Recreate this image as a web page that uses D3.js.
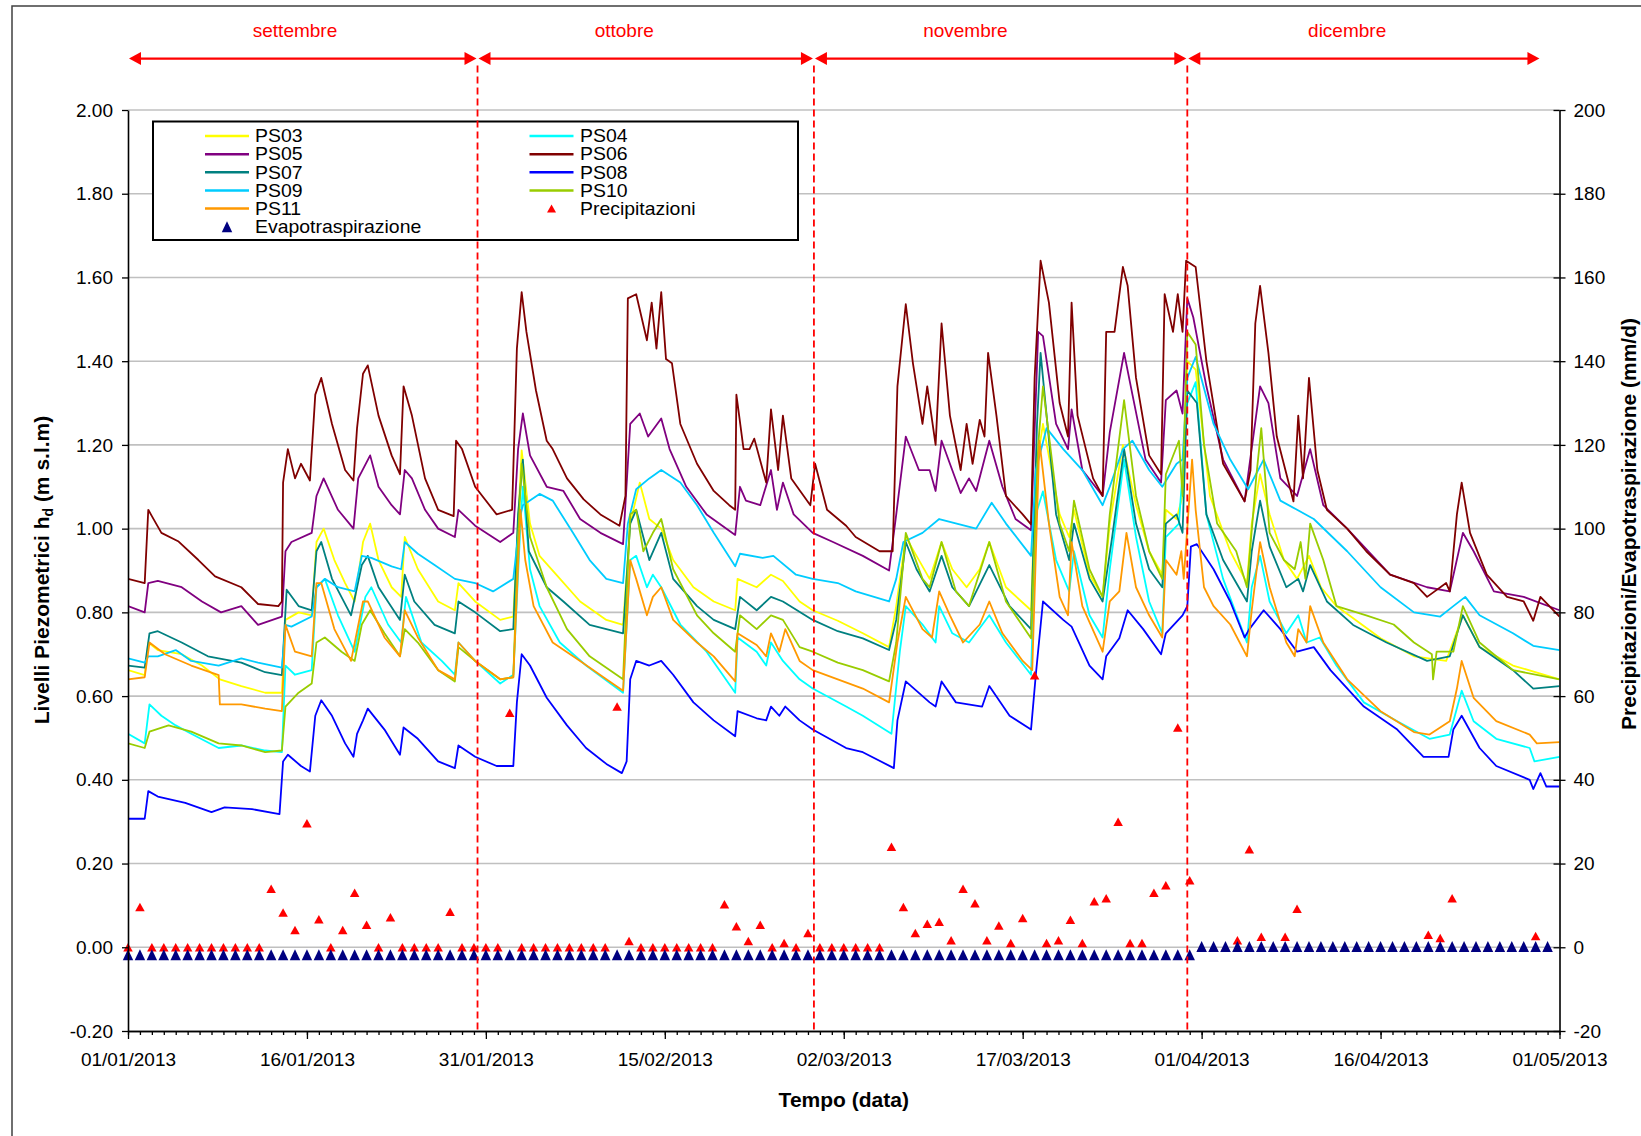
<!DOCTYPE html>
<html>
<head>
<meta charset="utf-8">
<script src="https://cdn.jsdelivr.net/npm/d3@7"></script>
<style>
  body { margin: 0; background: #fff; }
  text { font-family: "Liberation Sans", Arial, sans-serif; }
</style>
</head>
<body>
<script>
// Livelli piezometrici: [giorni dal 01/01/2013, livello in m s.l.m]
var ps03 = [[0,0.662],[1.4,0.65],[1.7,0.728],[2.5,0.71],[4.5,0.70],[6.2,0.673],[7.7,0.64],[9.5,0.624],[11.5,0.608],[12.9,0.608],[13.2,0.782],[14.3,0.80],[15.4,0.793],[15.8,0.968],[16.4,1.00],[17.3,0.925],[18.2,0.87],[19.0,0.826],[19.7,0.968],[20.3,1.012],[21.0,0.925],[22.1,0.86],[22.9,0.837],[23.2,0.98],[24.3,0.903],[26.0,0.826],[27.4,0.805],[27.7,0.87],[29.1,0.826],[31.2,0.782],[32.3,0.79],[32.7,1.012],[33.0,1.187],[33.7,1.012],[34.5,0.935],[35.9,0.89],[37.9,0.826],[40.1,0.782],[41.5,0.77],[42.1,1.012],[42.9,1.11],[43.7,1.023],[44.7,1.00],[45.7,0.925],[47.4,0.86],[49.1,0.826],[50.9,0.805],[51.1,0.88],[52.7,0.86],[53.9,0.89],[54.9,0.875],[56.3,0.826],[57.4,0.805],[59.5,0.78],[61.6,0.75],[63.8,0.717],[64.4,0.815],[65.2,0.98],[66.1,0.935],[67.2,0.88],[68.2,0.968],[69.1,0.903],[70.3,0.86],[71.4,0.903],[72.2,0.968],[73.6,0.86],[75.7,0.805],[76.1,1.14],[76.7,1.25],[78.1,1.034],[78.9,0.98],[79.3,1.045],[80.6,0.89],[81.7,0.837],[82.3,1.012],[83.4,1.20],[84.5,1.056],[85.6,0.946],[86.7,0.89],[87.0,1.045],[87.9,1.023],[88.4,1.078],[88.8,1.40],[89.5,1.38],[90.7,1.078],[92.4,0.946],[93.8,0.87],[94.2,1.012],[94.9,1.13],[95.7,1.034],[96.9,0.925],[98.0,0.88],[99.0,0.935],[100.0,0.86],[101.3,0.815],[105.0,0.738],[107.8,0.695],[110.5,0.684],[111.9,0.793],[113.3,0.717],[116.1,0.673],[120,0.64]];

var ps04 = [[0,0.51],[1.4,0.487],[1.8,0.58],[2.8,0.553],[4.0,0.53],[5.3,0.51],[7.6,0.476],[9.5,0.482],[11.5,0.47],[12.9,0.466],[13.2,0.673],[14.0,0.651],[15.4,0.662],[15.8,0.86],[16.5,0.88],[17.6,0.793],[19.0,0.706],[19.9,0.837],[20.4,0.86],[21.8,0.771],[22.9,0.728],[23.3,0.837],[24.6,0.728],[26.3,0.684],[27.4,0.651],[27.7,0.728],[29.1,0.684],[31.2,0.63],[32.3,0.651],[32.9,1.012],[33.1,1.10],[33.7,0.903],[34.5,0.815],[36.2,0.728],[38.4,0.673],[41.5,0.608],[42.1,0.925],[42.6,0.935],[43.5,0.86],[44.0,0.89],[44.7,0.86],[46.3,0.771],[48.5,0.706],[50.9,0.608],[51.1,0.74],[52.7,0.706],[53.5,0.673],[53.9,0.728],[54.9,0.684],[56.3,0.64],[57.4,0.618],[60.2,0.575],[61.6,0.553],[64.0,0.51],[64.7,0.706],[65.2,0.815],[66.6,0.771],[67.7,0.728],[68.0,0.815],[69.1,0.75],[70.5,0.728],[72.2,0.793],[73.6,0.728],[75.7,0.651],[76.1,1.034],[76.7,1.089],[77.8,0.925],[78.9,0.85],[79.3,0.946],[80.6,0.793],[81.7,0.74],[82.3,0.903],[83.5,1.165],[84.5,0.98],[85.6,0.826],[86.7,0.75],[87.0,0.98],[88.1,1.012],[88.8,1.30],[89.5,1.35],[90.4,1.034],[91.8,0.88],[93.8,0.728],[94.2,0.86],[94.9,0.935],[95.7,0.826],[97.1,0.75],[98.1,0.793],[98.8,0.728],[99.9,0.74],[101.3,0.673],[103.6,0.585],[106.4,0.54],[109.1,0.498],[110.8,0.508],[111.8,0.613],[112.8,0.54],[114.7,0.498],[117.5,0.476],[117.9,0.444],[120,0.455]];

var ps05 = [[0,0.815],[1.4,0.80],[1.7,0.87],[2.5,0.875],[4.5,0.86],[6.2,0.826],[7.8,0.80],[9.5,0.815],[10.9,0.77],[12.9,0.79],[13.2,0.946],[13.7,0.968],[15.4,0.99],[15.8,1.078],[16.4,1.12],[17.6,1.045],[18.9,1.00],[19.3,1.12],[20.3,1.175],[21.0,1.10],[22.1,1.056],[22.8,1.034],[23.2,1.14],[23.8,1.12],[24.9,1.045],[26.0,1.00],[27.4,0.98],[27.7,1.045],[29.1,1.007],[31.2,0.968],[32.3,0.99],[32.7,1.19],[33.1,1.275],[33.7,1.175],[35.1,1.10],[36.5,1.09],[37.9,1.023],[39.6,0.99],[41.5,0.963],[42.1,1.25],[42.9,1.275],[43.6,1.22],[44.7,1.263],[45.4,1.19],[46.8,1.10],[48.5,1.034],[50.9,0.985],[51.3,1.10],[51.8,1.067],[53.0,1.056],[53.9,1.14],[54.4,1.045],[54.9,1.11],[55.8,1.034],[57.4,0.99],[59.1,0.968],[61.6,0.935],[63.8,0.90],[64.4,1.034],[65.2,1.22],[66.3,1.14],[67.2,1.14],[67.7,1.09],[68.2,1.21],[68.9,1.155],[69.8,1.085],[70.5,1.12],[71.1,1.09],[72.2,1.21],[73.3,1.10],[74.4,1.023],[75.7,0.996],[76.3,1.47],[76.7,1.46],[77.8,1.25],[78.8,1.19],[79.1,1.285],[80.0,1.14],[81.7,1.078],[82.3,1.23],[83.5,1.42],[84.2,1.32],[85.3,1.165],[86.6,1.11],[87.0,1.307],[87.9,1.33],[88.4,1.275],[88.8,1.55],[89.3,1.505],[90.4,1.34],[91.8,1.165],[93.6,1.065],[94.9,1.34],[95.6,1.30],[96.6,1.12],[98.0,1.078],[99.1,1.19],[100.2,1.056],[102.2,1.00],[105.8,0.89],[108.9,0.86],[110.8,0.85],[111.9,0.99],[112.8,0.946],[114.5,0.85],[117.0,0.837],[120,0.805]];

var ps06 = [[0,0.88],[1.4,0.87],[1.7,1.045],[2,1.03],[2.8,0.99],[4.2,0.97],[5.9,0.925],[7.3,0.886],[9.5,0.86],[10.9,0.82],[12.6,0.815],[12.9,0.826],[13.0,1.11],[13.4,1.19],[14.0,1.12],[14.5,1.155],[15.25,1.115],[15.7,1.32],[16.2,1.36],[17.1,1.25],[18.2,1.14],[18.9,1.115],[19.2,1.24],[19.7,1.37],[20.1,1.39],[21.0,1.27],[22.1,1.175],[22.8,1.13],[23.1,1.34],[23.8,1.27],[24.9,1.12],[26.0,1.045],[27.3,1.03],[27.5,1.21],[28.0,1.19],[29.1,1.10],[30.9,1.034],[32.2,1.045],[32.6,1.43],[33.0,1.565],[33.4,1.47],[34.2,1.33],[35.1,1.21],[35.6,1.19],[36.8,1.12],[38.2,1.07],[39.6,1.034],[41.2,1.007],[41.7,1.078],[41.9,1.55],[42.6,1.56],[43.5,1.45],[43.9,1.54],[44.3,1.43],[44.7,1.565],[45.1,1.405],[45.6,1.395],[46.3,1.25],[47.7,1.155],[49.1,1.09],[50.4,1.056],[50.9,1.045],[51.0,1.32],[51.6,1.19],[52.1,1.19],[52.5,1.215],[53.5,1.11],[53.9,1.285],[54.5,1.14],[54.9,1.27],[55.6,1.12],[57.2,1.056],[57.6,1.155],[58.6,1.045],[60.2,1.007],[61.0,0.98],[63.0,0.946],[64.1,0.946],[64.5,1.34],[65.2,1.536],[65.8,1.395],[66.6,1.25],[67.0,1.34],[67.7,1.20],[68.2,1.49],[68.9,1.27],[69.8,1.14],[70.3,1.25],[70.8,1.155],[71.4,1.26],[71.8,1.22],[72.1,1.42],[72.8,1.27],[73.6,1.078],[75.0,1.034],[75.7,1.01],[76.0,1.36],[76.5,1.64],[77.2,1.54],[78.1,1.30],[78.8,1.22],[79.1,1.54],[79.6,1.27],[80.9,1.12],[81.7,1.078],[82.0,1.47],[82.7,1.47],[83.4,1.625],[83.8,1.58],[84.5,1.36],[85.6,1.175],[86.6,1.13],[86.9,1.56],[87.6,1.47],[88.0,1.56],[88.4,1.47],[88.7,1.64],[89.5,1.625],[90.4,1.40],[91.8,1.155],[93.6,1.065],[94.1,1.14],[94.5,1.49],[94.9,1.58],[95.6,1.42],[96.3,1.22],[97.7,1.065],[98.1,1.27],[98.5,1.12],[99.0,1.36],[99.7,1.14],[100.5,1.045],[102.2,1.00],[103.8,0.946],[105.8,0.89],[107.8,0.87],[108.9,0.837],[110.5,0.87],[110.8,0.85],[111.4,1.034],[111.8,1.11],[112.5,0.99],[113.9,0.89],[115.6,0.837],[117.0,0.826],[117.8,0.78],[118.4,0.837],[120,0.79]];

var ps07 = [[0,0.673],[1.4,0.668],[1.8,0.75],[2.5,0.755],[4.5,0.728],[6.7,0.695],[9.5,0.68],[11.5,0.657],[12.9,0.65],[13.3,0.854],[14.3,0.815],[15.4,0.805],[15.8,0.946],[16.2,0.968],[17.1,0.88],[18.7,0.793],[19.6,0.913],[20.1,0.935],[21.0,0.86],[22.8,0.782],[23.2,0.89],[24.0,0.826],[25.7,0.77],[27.4,0.75],[27.7,0.826],[29.1,0.80],[31.2,0.755],[32.3,0.76],[32.7,1.034],[33.1,1.165],[33.6,0.946],[35.1,0.86],[36.5,0.826],[38.7,0.77],[41.5,0.75],[42.1,1.012],[42.6,1.045],[43.7,0.925],[44.7,0.99],[45.7,0.88],[47.7,0.815],[49.1,0.782],[50.9,0.76],[51.3,0.837],[52.7,0.805],[53.9,0.837],[54.9,0.826],[57.4,0.782],[59.5,0.755],[61.6,0.738],[63.8,0.71],[64.4,0.782],[65.2,0.968],[66.1,0.903],[67.2,0.85],[68.2,0.935],[69.1,0.86],[70.5,0.815],[72.2,0.913],[73.9,0.815],[75.7,0.76],[76.2,1.25],[76.5,1.42],[77.8,1.034],[78.9,0.925],[79.3,1.012],[80.6,0.88],[81.7,0.826],[82.5,0.98],[83.5,1.19],[84.5,1.012],[85.6,0.903],[86.7,0.86],[87.0,1.012],[87.9,1.034],[88.4,0.99],[88.8,1.33],[89.6,1.30],[90.4,1.034],[91.8,0.925],[93.8,0.826],[94.2,0.946],[94.9,1.067],[95.7,0.957],[97.1,0.86],[98.1,0.88],[98.5,0.85],[99.1,0.913],[100.5,0.826],[102.7,0.77],[105.5,0.728],[108.9,0.684],[110.8,0.695],[111.9,0.793],[113.3,0.717],[116.1,0.662],[117.8,0.618],[120,0.624]];

var ps08 = [[0,0.307],[1.4,0.307],[1.7,0.373],[2.5,0.36],[4.8,0.345],[7.0,0.323],[8.1,0.334],[10.4,0.33],[12.7,0.318],[13.0,0.444],[13.4,0.46],[14.5,0.433],[15.25,0.42],[15.7,0.553],[16.2,0.59],[17.1,0.553],[18.2,0.487],[18.9,0.455],[19.2,0.51],[19.7,0.542],[20.1,0.57],[21.5,0.52],[22.8,0.46],[23.1,0.525],[24.3,0.498],[26.0,0.444],[27.4,0.428],[27.7,0.482],[29.1,0.455],[30.9,0.433],[32.3,0.433],[32.6,0.585],[33.0,0.70],[33.7,0.673],[35.1,0.596],[36.8,0.53],[38.4,0.476],[40.1,0.438],[41.4,0.416],[41.8,0.444],[42.1,0.64],[42.6,0.684],[43.7,0.673],[44.7,0.684],[45.7,0.651],[47.4,0.585],[49.1,0.542],[50.9,0.504],[51.1,0.564],[52.7,0.547],[53.5,0.542],[53.9,0.575],[54.6,0.553],[55.1,0.575],[56.3,0.542],[57.4,0.52],[60.2,0.476],[61.6,0.466],[64.2,0.428],[64.5,0.542],[65.2,0.635],[67.2,0.585],[67.7,0.575],[68.2,0.635],[69.4,0.585],[71.6,0.575],[72.2,0.624],[73.9,0.553],[75.7,0.52],[76.1,0.651],[76.7,0.826],[78.4,0.782],[79.1,0.766],[80.6,0.673],[81.7,0.64],[82.0,0.695],[83.1,0.738],[83.8,0.805],[85.1,0.76],[86.6,0.70],[87.0,0.75],[88.4,0.793],[88.8,0.815],[89.1,0.957],[89.6,0.963],[91.0,0.903],[92.4,0.826],[93.6,0.74],[94.0,0.76],[95.2,0.805],[96.6,0.76],[98.0,0.706],[99.4,0.717],[100.8,0.662],[103.6,0.575],[106.4,0.52],[108.6,0.455],[110.7,0.455],[111.1,0.52],[111.8,0.553],[113.3,0.476],[114.7,0.433],[117.5,0.40],[117.8,0.378],[118.4,0.416],[118.9,0.384],[120,0.384]];

var ps09 = [[0,0.69],[1.4,0.68],[1.7,0.695],[2.5,0.695],[4,0.71],[5.3,0.684],[7.6,0.673],[9.5,0.69],[10.9,0.68],[12.9,0.668],[13.2,0.77],[13.7,0.766],[15.4,0.79],[15.8,0.86],[16.5,0.88],[17.6,0.86],[19.0,0.85],[19.6,0.935],[20.4,0.93],[22.1,0.91],[22.9,0.903],[23.2,0.968],[24.3,0.94],[25.7,0.913],[27.4,0.88],[29.1,0.87],[30.6,0.85],[32.3,0.88],[32.9,1.034],[33.1,1.056],[34.5,1.083],[35.6,1.067],[37.3,0.99],[38.7,0.925],[40.1,0.88],[41.5,0.87],[41.9,1.012],[42.6,1.094],[43.7,1.12],[44.7,1.14],[46.3,1.11],[47.7,1.056],[49.1,0.99],[50.9,0.91],[51.3,0.94],[53.2,0.93],[54.1,0.935],[56.0,0.89],[57.4,0.88],[59.5,0.87],[61.0,0.85],[63.8,0.826],[64.4,0.88],[65.0,0.968],[66.6,0.99],[68.0,1.023],[71.1,1.00],[72.4,1.062],[73.6,1.012],[75.7,0.935],[76.1,1.14],[77.0,1.24],[78.4,1.19],[80.0,1.14],[81.7,1.056],[82.3,1.10],[83.4,1.19],[84.2,1.21],[85.6,1.14],[86.7,1.10],[87.9,1.155],[88.4,1.165],[88.8,1.36],[89.5,1.41],[91.0,1.25],[92.4,1.165],[93.9,1.094],[95.2,1.165],[96.6,1.067],[98.0,1.045],[99.4,1.023],[102.2,0.946],[105.0,0.86],[107.8,0.80],[110.0,0.79],[111.1,0.815],[112.1,0.837],[113.3,0.793],[116.1,0.75],[117.8,0.72],[120,0.71]];

var ps10 = [[0,0.487],[1.4,0.476],[1.8,0.515],[3.4,0.53],[5.3,0.515],[7.6,0.487],[9.5,0.482],[11.5,0.466],[12.9,0.47],[13.2,0.575],[14.3,0.608],[15.4,0.63],[15.8,0.728],[16.5,0.74],[17.9,0.706],[19.0,0.684],[19.6,0.771],[20.3,0.805],[21.5,0.75],[22.8,0.695],[23.2,0.76],[24.3,0.728],[26.0,0.662],[27.4,0.635],[27.7,0.717],[29.1,0.684],[31.2,0.64],[32.3,0.645],[32.7,0.98],[33.0,1.155],[33.7,0.98],[35.1,0.86],[36.8,0.76],[38.7,0.695],[41.5,0.64],[42.1,1.034],[42.6,1.045],[43.2,0.946],[44.0,0.99],[44.7,1.023],[45.7,0.903],[47.7,0.793],[49.1,0.75],[50.9,0.706],[51.3,0.793],[52.7,0.76],[53.9,0.793],[54.9,0.782],[56.3,0.717],[57.4,0.706],[59.5,0.68],[61.6,0.662],[63.8,0.635],[64.4,0.728],[65.2,0.99],[66.6,0.88],[67.2,0.86],[68.2,0.968],[69.4,0.85],[70.5,0.815],[72.2,0.968],[73.6,0.826],[75.7,0.738],[76.3,1.20],[76.7,1.34],[78.1,1.012],[78.9,0.946],[79.3,1.067],[80.6,0.903],[81.7,0.837],[82.3,1.034],[83.5,1.307],[84.5,1.078],[85.6,0.946],[86.7,0.88],[87.0,1.13],[88.1,1.21],[88.4,1.078],[88.8,1.47],[89.5,1.44],[90.2,1.20],[91.3,1.012],[92.9,0.946],[93.8,0.86],[94.6,1.13],[95.0,1.24],[95.7,0.99],[96.9,0.925],[97.8,0.903],[98.3,0.968],[98.7,0.88],[99.1,1.012],[100.2,0.925],[101.3,0.815],[103.8,0.793],[106.1,0.771],[107.8,0.728],[109.3,0.70],[109.4,0.64],[109.7,0.706],[111.1,0.706],[111.9,0.815],[113.3,0.728],[116.1,0.662],[120,0.64]];

var ps11 = [[0,0.64],[1.4,0.645],[1.8,0.728],[3.1,0.70],[5.3,0.673],[7.6,0.65],[7.7,0.58],[9.5,0.58],[11.5,0.57],[12.9,0.564],[13.2,0.77],[14.0,0.706],[15.4,0.695],[15.8,0.87],[16.2,0.87],[17.3,0.76],[18.7,0.684],[19.7,0.826],[20.1,0.826],[21.5,0.74],[22.8,0.695],[23.2,0.805],[24.3,0.74],[26.0,0.662],[27.4,0.64],[27.7,0.728],[29.1,0.684],[31.2,0.64],[32.3,0.645],[32.9,1.045],[33.3,0.925],[34.0,0.815],[35.6,0.728],[37.9,0.684],[40.1,0.64],[41.5,0.613],[42.1,0.925],[42.6,0.88],[43.5,0.793],[44.0,0.837],[44.7,0.86],[45.7,0.782],[47.7,0.728],[49.1,0.695],[50.9,0.635],[51.1,0.75],[52.7,0.722],[53.5,0.695],[53.9,0.75],[54.6,0.706],[55.1,0.76],[56.3,0.684],[57.4,0.662],[59.5,0.64],[61.6,0.618],[63.8,0.585],[64.5,0.728],[65.2,0.837],[66.6,0.76],[67.4,0.74],[68.0,0.85],[68.9,0.793],[70.0,0.728],[71.4,0.771],[72.2,0.826],[73.3,0.75],[75.0,0.684],[75.8,0.662],[76.4,1.21],[77.2,1.012],[78.1,0.837],[78.8,0.793],[79.1,0.968],[80.0,0.815],[81.7,0.706],[82.3,0.826],[83.1,0.85],[83.7,0.99],[84.5,0.86],[85.6,0.793],[86.7,0.74],[87.0,0.925],[87.9,0.89],[88.3,0.946],[88.5,0.88],[89.2,1.165],[89.5,1.045],[90.2,0.86],[91.0,0.815],[92.4,0.771],[93.8,0.695],[94.2,0.805],[94.9,0.968],[95.7,0.86],[97.1,0.728],[97.8,0.695],[98.1,0.76],[98.8,0.728],[99.1,0.815],[100.2,0.728],[102.2,0.64],[105.0,0.564],[107.8,0.514],[109.1,0.508],[110.8,0.54],[111.4,0.618],[111.8,0.684],[112.8,0.596],[114.7,0.54],[117.5,0.508],[118.1,0.487],[120,0.49]];

// mm/d, un valore al giorno dal 01/01/2013
var precipitazioni = [
  0, 9.6, 0, 0, 0, 0, 0, 0, 0, 0,
  0, 0, 14, 8.3, 4.1, 29.6, 6.7, 0, 4.1, 13,
  5.4, 0, 7.2, 0, 0, 0, 0, 8.5, 0, 0,
  0, 0, 56, 0, 0, 0, 0, 0, 0, 0,
  0, 57.5, 1.5, 0, 0, 0, 0, 0, 0, 0,
  10.3, 5, 1.5, 5.4, 0, 1, 0, 3.4, 0, 0,
  0, 0, 0, 0, 24, 9.6, 3.4, 5.6, 6.1, 1.7,
  14, 10.5, 1.7, 5.2, 1, 7, 65, 1, 1.7, 6.6,
  1, 11, 11.7, 30, 1, 1, 13, 14.8, 52.5, 16,
  0, 0, 0, 1.7, 23.4, 2.5, 0, 2.5, 9.2, 0,
  0, 0, 0, 0, 0, 0, 0, 0, 0, 3,
  2.2, 11.7, 0, 0, 0, 0, 0, 0, 2.7, 0
];
var evapotraspirazione = [
  -1.8, -1.8, -1.8, -1.8, -1.8, -1.8, -1.8, -1.8, -1.8, -1.8,
  -1.8, -1.8, -1.8, -1.8, -1.8, -1.8, -1.8, -1.8, -1.8, -1.8,
  -1.8, -1.8, -1.8, -1.8, -1.8, -1.8, -1.8, -1.8, -1.8, -1.8,
  -1.8, -1.8, -1.8, -1.8, -1.8, -1.8, -1.8, -1.8, -1.8, -1.8,
  -1.8, -1.8, -1.8, -1.8, -1.8, -1.8, -1.8, -1.8, -1.8, -1.8,
  -1.8, -1.8, -1.8, -1.8, -1.8, -1.8, -1.8, -1.8, -1.8, -1.8,
  -1.8, -1.8, -1.8, -1.8, -1.8, -1.8, -1.8, -1.8, -1.8, -1.8,
  -1.8, -1.8, -1.8, -1.8, -1.8, -1.8, -1.8, -1.8, -1.8, -1.8,
  -1.8, -1.8, -1.8, -1.8, -1.8, -1.8, -1.8, -1.8, -1.8, -1.8,
  0.2, 0.2, 0.2, 0.2, 0.2, 0.2, 0.2, 0.2, 0.2, 0.2,
  0.2, 0.2, 0.2, 0.2, 0.2, 0.2, 0.2, 0.2, 0.2, 0.2,
  0.2, 0.2, 0.2, 0.2, 0.2, 0.2, 0.2, 0.2, 0.2, 0.2
];

var seriesNames = ["PS03", "PS04", "PS05", "PS06", "PS07", "PS08", "PS09", "PS10", "PS11"];
var seriesData = [ps03, ps04, ps05, ps06, ps07, ps08, ps09, ps10, ps11];

var xTickLabels = ["01/01/2013", "16/01/2013", "31/01/2013", "15/02/2013", "02/03/2013",
                   "17/03/2013", "01/04/2013", "16/04/2013", "01/05/2013"];
var yTicks = [-0.2, 0, 0.2, 0.4, 0.6, 0.8, 1.0, 1.2, 1.4, 1.6, 1.8, 2.0];
var y2Ticks = [-20, 0, 20, 40, 60, 80, 100, 120, 140, 160, 180, 200];

// periodi segnati in alto (giorni dal 01/01/2013)
var periodNames = ["settembre", "ottobre", "novembre", "dicembre"];
var periodBounds = [0, 29.3, 57.5, 88.8, 118.4];

// ---- layout ----
var W = 1641, H = 1136;
var plotL = 128, plotR = 1559.5, plotT = 110, plotB = 1031;
var periodLabelDay = [14.0, 41.6, 70.2, 102.2];

var colors = {
  PS03: "#ffff00", PS04: "#00ffff", PS05: "#800080", PS06: "#800000",
  PS07: "#008080", PS08: "#0000ff", PS09: "#00ccff", PS10: "#99cc00",
  PS11: "#ff9900", Precipitazioni: "#ff0000", Evapotraspirazione: "#000080"
};

var svg = d3.select("body").append("svg")
    .attr("width", W)
    .attr("height", H);

// outer frame
svg.append("rect")
    .attr("x", 12).attr("y", 6)
    .attr("width", W).attr("height", H)
    .attr("fill", "none")
    .attr("stroke", "#404040")
    .attr("stroke-width", 1.5);

var parseDate = d3.utcParse("%d/%m/%Y");
var t0 = parseDate(xTickLabels[0]);
function dayToDate(d) { return new Date(t0.getTime() + d * 864e5); }

var x = d3.scaleUtc()
    .domain([t0, parseDate(xTickLabels[xTickLabels.length - 1])])
    .range([plotL, plotR]);
var y = d3.scaleLinear().domain([-0.2, 2.0]).range([plotB, plotT]);
var y2 = d3.scaleLinear().domain([-20, 200]).range([plotB, plotT]);

// gridlines
svg.append("g")
    .selectAll("line")
    .data(yTicks.filter(function (v) { return v > -0.2; }))
    .enter()
    .append("line")
    .attr("x1", plotL).attr("x2", plotR)
    .attr("y1", function (d) { return y(d); })
    .attr("y2", function (d) { return y(d); })
    .attr("stroke", "#c0c0c0")
    .attr("stroke-width", 1.6);

svg.append("clipPath").attr("id", "plot")
    .append("rect")
    .attr("x", plotL).attr("y", plotT)
    .attr("width", plotR - plotL).attr("height", plotB - plotT);

// series lines
var line = d3.line()
    .x(function (d) { return x(dayToDate(d[0])); })
    .y(function (d) { return y(d[1]); });

svg.append("g")
    .attr("clip-path", "url(#plot)")
    .selectAll("path")
    .data(seriesNames)
    .enter()
    .append("path")
    .attr("d", function (d, i) { return line(seriesData[i]); })
    .attr("fill", "none")
    .attr("stroke", function (d) { return colors[d]; })
    .attr("stroke-width", 1.8)
    .attr("stroke-linejoin", "round");

// triangle marker centred on its box, the way the spreadsheet draws it
function tri(w, h) {
    return "M0," + (-h / 2) + "L" + (w / 2) + "," + (h / 2) + "L" + (-w / 2) + "," + (h / 2) + "Z";
}

svg.append("g")
    .selectAll("path")
    .data(precipitazioni)
    .enter()
    .append("path")
    .attr("d", tri(9.5, 8.5))
    .attr("transform", function (d, i) { return "translate(" + x(dayToDate(i)) + "," + y2(d) + ")"; })
    .attr("fill", colors.Precipitazioni);

svg.append("g")
    .selectAll("path")
    .data(evapotraspirazione)
    .enter()
    .append("path")
    .attr("d", tri(10.5, 11))
    .attr("transform", function (d, i) { return "translate(" + x(dayToDate(i)) + "," + y2(d) + ")"; })
    .attr("fill", colors.Evapotraspirazione);

// axes
function styleAxis(g) {
    g.attr("font-size", null).attr("font-family", null);
    g.select(".domain").attr("stroke", "#000").attr("stroke-width", 1.6);
    g.selectAll(".tick line").attr("stroke", "#000").attr("stroke-width", 1.3);
    g.selectAll("text").attr("fill", "#000").style("font-size", "19px");
}

svg.append("g")
    .attr("transform", "translate(" + plotL + ",0)")
    .call(d3.axisLeft(y).tickValues(yTicks)
        .tickFormat(function (v) { return v.toFixed(2); })
        .tickSizeInner(6).tickSizeOuter(0).tickPadding(9))
    .call(styleAxis);

svg.append("g")
    .attr("transform", "translate(" + plotR + ",0)")
    .call(d3.axisRight(y2).tickValues(y2Ticks)
        .tickFormat(function (v) { return String(v); })
        .tickSizeInner(6).tickSizeOuter(0).tickPadding(8))
    .call(styleAxis);

svg.append("g")
    .attr("transform", "translate(" + plotR + ",0)")
    .call(d3.axisRight(y2).tickValues(y2Ticks).tickFormat("")
        .tickSizeInner(-6).tickSizeOuter(0))
    .call(styleAxis)
    .select(".domain").remove();

// daily minor ticks
svg.append("g")
    .attr("transform", "translate(0," + plotB + ")")
    .call(d3.axisBottom(x).tickValues(d3.range(0, 121).map(dayToDate)).tickFormat("")
        .tickSizeInner(4).tickSizeOuter(0))
    .call(styleAxis);

svg.append("g")
    .attr("transform", "translate(0," + plotB + ")")
    .call(d3.axisBottom(x).tickValues(xTickLabels.map(parseDate))
        .tickFormat(d3.utcFormat("%d/%m/%Y"))
        .tickSizeInner(8).tickSizeOuter(0).tickPadding(14))
    .call(styleAxis);

// axis titles
svg.append("text")
    .attr("x", (plotL + plotR) / 2)
    .attr("y", 1107)
    .attr("text-anchor", "middle")
    .style("font-size", "21px")
    .style("font-weight", "bold")
    .text("Tempo (data)");

var yTitle = svg.append("text")
    .attr("transform", "translate(49,570) rotate(-90)")
    .attr("text-anchor", "middle")
    .style("font-size", "21px")
    .style("font-weight", "bold");
yTitle.append("tspan").text("Livelli Piezometrici h");
yTitle.append("tspan").attr("dy", 4).style("font-size", "14px").text("d");
yTitle.append("tspan").attr("dy", -4).text(" (m s.l.m)");

svg.append("text")
    .attr("transform", "translate(1636,524) rotate(-90)")
    .attr("text-anchor", "middle")
    .style("font-size", "21px")
    .style("font-weight", "bold")
    .text("Precipitazioni/Evapotraspirazione (mm/d)");

// legend
var legendItems = seriesNames.concat(["Precipitazioni", "Evapotraspirazione"]);
var legend = svg.append("g");
legend.append("rect")
    .attr("x", 153).attr("y", 121.5)
    .attr("width", 645).attr("height", 118.5)
    .attr("fill", "#fff")
    .attr("stroke", "#000")
    .attr("stroke-width", 2);

var colLine = [205, 529.5], colText = [255, 580];
legendItems.forEach(function (name, i) {
    var col = i % 2, row = Math.floor(i / 2);
    var cy = 136 + row * 18.15;
    if (name === "Precipitazioni") {
        legend.append("path").attr("d", tri(9, 8))
            .attr("transform", "translate(" + (colLine[col] + 22) + "," + cy + ")")
            .attr("fill", colors[name]);
    } else if (name === "Evapotraspirazione") {
        legend.append("path").attr("d", tri(10.5, 11))
            .attr("transform", "translate(" + (colLine[col] + 22) + "," + cy + ")")
            .attr("fill", colors[name]);
    } else {
        legend.append("line")
            .attr("x1", colLine[col]).attr("x2", colLine[col] + 44)
            .attr("y1", cy).attr("y2", cy)
            .attr("stroke", colors[name])
            .attr("stroke-width", 2.5);
    }
    legend.append("text")
        .attr("x", colText[col]).attr("y", cy)
        .attr("dy", "0.35em")
        .style("font-size", "18px")
        .attr("transform", "translate(" + colText[col] + "," + cy + ") scale(1.08,1) translate(" + (-colText[col]) + "," + (-cy) + ")")
        .text(name);
});

// period arrows and dividers
var arrowY = 58.6;
var head = 12, half = 6.5;
var periods = svg.append("g");
periodNames.forEach(function (name, i) {
    var x1 = x(dayToDate(periodBounds[i])) + 1, x2 = x(dayToDate(periodBounds[i + 1])) - 1;
    periods.append("line")
        .attr("x1", x1 + head - 1).attr("x2", x2 - head + 1)
        .attr("y1", arrowY).attr("y2", arrowY)
        .attr("stroke", "#ff0000").attr("stroke-width", 2.2);
    periods.append("path")
        .attr("d", "M" + x1 + "," + arrowY + "L" + (x1 + head) + "," + (arrowY - half) + "L" + (x1 + head) + "," + (arrowY + half) + "Z")
        .attr("fill", "#ff0000");
    periods.append("path")
        .attr("d", "M" + x2 + "," + arrowY + "L" + (x2 - head) + "," + (arrowY - half) + "L" + (x2 - head) + "," + (arrowY + half) + "Z")
        .attr("fill", "#ff0000");
    periods.append("text")
        .attr("x", x(dayToDate(periodLabelDay[i])))
        .attr("y", 37)
        .attr("text-anchor", "middle")
        .attr("fill", "#ff0000")
        .style("font-size", "19px")
        .text(name);
});

periods.selectAll("line.divider")
    .data(periodBounds.slice(1, 4))
    .enter()
    .append("line")
    .attr("class", "divider")
    .attr("x1", function (d) { return x(dayToDate(d)); })
    .attr("x2", function (d) { return x(dayToDate(d)); })
    .attr("y1", arrowY + 7)
    .attr("y2", plotB)
    .attr("stroke", "#ff0000")
    .attr("stroke-width", 1.8)
    .attr("stroke-dasharray", "7,4");
</script>
</body>
</html>
